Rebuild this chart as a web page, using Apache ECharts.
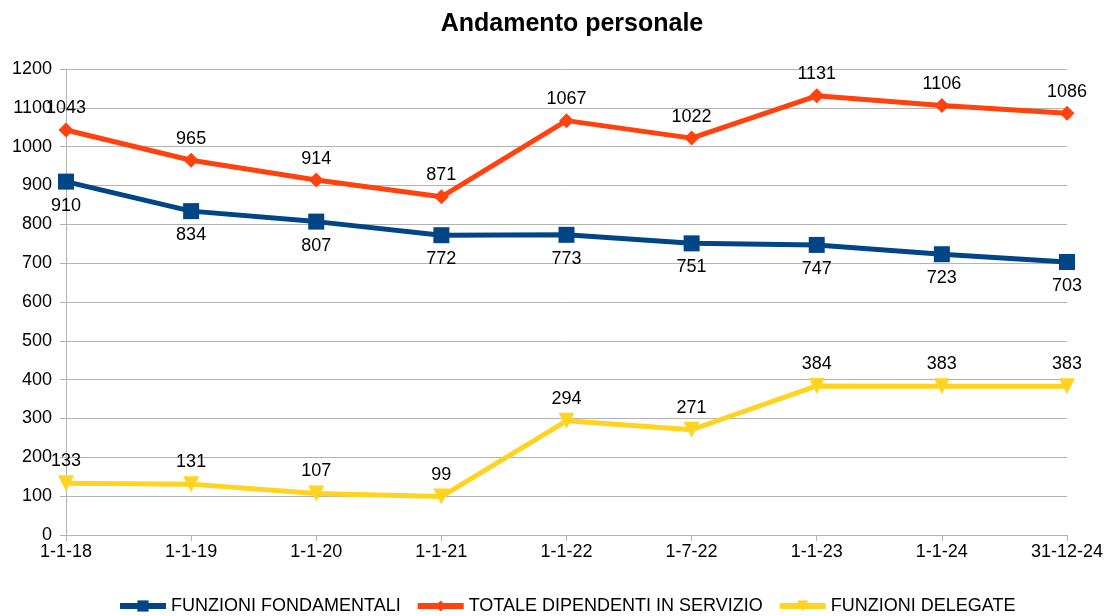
<!DOCTYPE html>
<html><head><meta charset="utf-8">
<script src="https://cdn.jsdelivr.net/npm/echarts@6/dist/echarts.min.js"></script>
<style>html,body{margin:0;padding:0;background:#fff}#c{width:1106px;height:616px}</style>
</head><body><div id="c"></div>
<script>
const categories = ['1-1-18','1-1-19','1-1-20','1-1-21','1-1-22','1-7-22','1-1-23','1-1-24','31-12-24'];
const fondamentali = [910,834,807,772,773,751,747,723,703];
const totale = [1043,965,914,871,1067,1022,1131,1106,1086];
const delegate = [133,131,107,99,294,271,384,383,383];
const yTicks = {min:0,max:1200,interval:100};

const chart = echarts.init(document.getElementById('c'));
const font = 'Liberation Sans, Arial, sans-serif';
const lbl = (pos, d) => ({show:true, position:pos, color:'#000', fontSize:18, fontFamily:font, distance:d});
chart.setOption({
  animation:false,
  title:{text:'Andamento personale', left:567, textAlign:'center', top:7, textStyle:{fontSize:25, fontWeight:'bold', fontFamily:font, color:'#000'}},
  grid:{left:66, right:38, top:69, bottom:81},
  legend:{top:592, left:112, itemWidth:46, itemHeight:14, itemGap:14, textStyle:{fontSize:18, fontFamily:font, color:'#000'},
    lineStyle:{width:6},
    data:['FUNZIONI FONDAMENTALI','TOTALE DIPENDENTI IN SERVIZIO','FUNZIONI DELEGATE']},
  xAxis:{type:'category', data:categories, boundaryGap:false,
    axisLine:{lineStyle:{color:'#b3b3b3'}}, axisTick:{show:true, length:6, lineStyle:{color:'#b3b3b3'}},
    axisLabel:{color:'#000', fontSize:18, fontFamily:font, margin:8},
    splitLine:{show:false}},
  yAxis:{type:'value', min:yTicks.min, max:yTicks.max, interval:yTicks.interval,
    axisLine:{show:true, lineStyle:{color:'#b3b3b3'}}, axisTick:{show:true, length:6, lineStyle:{color:'#b3b3b3'}},
    axisLabel:{color:'#000', fontSize:18, fontFamily:font, margin:14, formatter:(v)=>String(v)},
    splitLine:{lineStyle:{color:'#b3b3b3'}}},
  series:[
    {name:'FUNZIONI FONDAMENTALI', type:'line', data:fondamentali, color:'#004586', lineStyle:{width:5},
     symbol:'rect', symbolSize:16, label:lbl('bottom', 7)},
    {name:'TOTALE DIPENDENTI IN SERVIZIO', type:'line', data:totale, color:'#ff420e', lineStyle:{width:5},
     symbol:'diamond', symbolSize:15, label:lbl('top', 5)},
    {name:'FUNZIONI DELEGATE', type:'line', data:delegate, color:'#ffd320', lineStyle:{width:5},
     symbol:'triangle', symbolRotate:180, symbolSize:16, label:lbl('top', 5)}
  ]
});
</script></body></html>
